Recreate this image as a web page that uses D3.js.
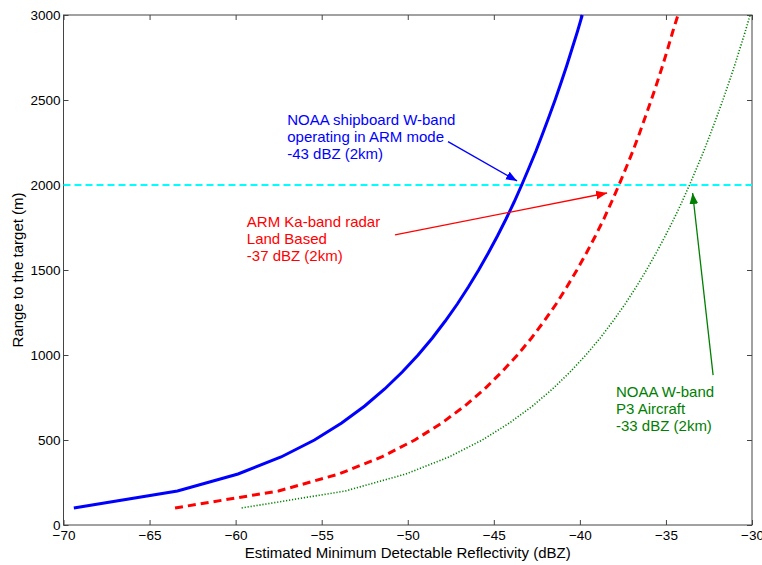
<!DOCTYPE html>
<html>
<head>
<meta charset="utf-8">
<script src="https://cdn.jsdelivr.net/npm/d3@7"></script>
<style>
  body { margin: 0; background: #fff; }
  text { font-family: "Liberation Sans", Arial, sans-serif; }
</style>
</head>
<body>
<svg id="chart" width="762" height="565"></svg>
<script>
// range to target (m)
const ranges = [100, 200, 300, 400, 500, 600, 700, 800, 900, 1000,
  1100, 1200, 1300, 1400, 1500, 1600, 1700, 1800, 1900, 2000,
  2100, 2200, 2300, 2400, 2500, 2600, 2700, 2800, 2900, 3000];

// min detectable reflectivity (dBZ) for each range
const noaaShip = [-69.40, -63.38, -59.86, -57.36, -55.42, -53.84, -52.50, -51.34, -50.32, -49.40,
  -48.57, -47.82, -47.12, -46.48, -45.88, -45.32, -44.79, -44.29, -43.82, -43.38,
  -42.96, -42.55, -42.17, -41.80, -41.44, -41.10, -40.77, -40.46, -40.15, -39.86];
const armKa = [-63.52, -57.51, -54.00, -51.52, -49.59, -48.02, -46.69, -45.54, -44.54, -43.63,
  -42.81, -42.07, -41.38, -40.76, -40.17, -39.62, -39.10, -38.61, -38.16, -37.73,
  -37.32, -36.92, -36.55, -36.20, -35.85, -35.52, -35.20, -34.90, -34.61, -34.30];
const noaaP3 = [-59.65, -53.63, -50.11, -47.61, -45.67, -44.09, -42.75, -41.59, -40.57, -39.65,
  -38.82, -38.07, -37.37, -36.73, -36.13, -35.57, -35.04, -34.54, -34.07, -33.63,
  -33.21, -32.80, -32.42, -32.05, -31.69, -31.35, -31.02, -30.71, -30.40, -30.11];

const refRange = 2000;
const xTicks = [-70, -65, -60, -55, -50, -45, -40, -35, -30];
const yTicks = [0, 500, 1000, 1500, 2000, 2500, 3000];

// annotations: text anchor and arrow [tail, head] in data units
const notes = [
  { lines: ["NOAA shipboard W-band", "operating in ARM mode", "-43 dBZ (2km)"],
    color: "#0000ff", at: [-57.0, 2353], arrow: [[-47.66, 2255], [-43.65, 2024]] },
  { lines: ["ARM Ka-band radar", "Land Based", "-37 dBZ (2km)"],
    color: "#ff0000", at: [-59.35, 1755], arrow: [[-50.74, 1706], [-38.42, 1953]] },
  { lines: ["NOAA W-band", "P3 Aircraft", "-33 dBZ (2km)"],
    color: "#008000", at: [-37.9, 751], arrow: [[-32.26, 882], [-33.45, 1953]] }
];

const margin = { top: 15, right: 10, bottom: 40, left: 63.5 };
const width = 752 - margin.left;
const height = 525 - margin.top;

const svg = d3.select("#chart");
const g = svg.append("g")
  .attr("transform", "translate(" + margin.left + "," + margin.top + ")");

const x = d3.scaleLinear().domain([-70, -30]).range([0, width]);
const y = d3.scaleLinear().domain([0, 3000]).range([height, 0]);

// frame
g.append("rect")
  .attr("width", width).attr("height", height)
  .attr("fill", "none").attr("stroke", "#444").attr("stroke-width", 1);

// axes, ticks pointing inward
const axisStyle = (sel) => {
  sel.select(".domain").remove();
  sel.selectAll("line").attr("stroke", "#444");
  sel.selectAll("text").attr("fill", "#000").style("font-size", "13.5px");
};
g.append("g").attr("transform", "translate(0," + height + ")")
  .call(d3.axisBottom(x).tickValues(xTicks).tickSizeInner(-5).tickPadding(5).tickFormat(d3.format("d")))
  .call(axisStyle);
g.append("g")
  .call(d3.axisTop(x).tickValues(xTicks).tickSizeInner(-5).tickFormat(""))
  .call(axisStyle);
g.append("g")
  .call(d3.axisLeft(y).tickValues(yTicks).tickSizeInner(-5).tickPadding(3).tickFormat(d3.format("d")))
  .call(axisStyle);
g.append("g").attr("transform", "translate(" + width + ",0)")
  .call(d3.axisRight(y).tickValues(yTicks).tickSizeInner(-5).tickFormat(""))
  .call(axisStyle);

// reference line at 2 km
g.append("line")
  .attr("x1", 0).attr("x2", width)
  .attr("y1", y(refRange)).attr("y2", y(refRange))
  .attr("stroke", "#00ffff").attr("stroke-width", 2)
  .attr("stroke-dasharray", "7,4");

const line = d3.line().x((d) => x(d[0])).y((d) => y(d[1]));
const series = [
  { vals: noaaShip, color: "#0000ff", width: 3, dash: null },
  { vals: armKa, color: "#ff0000", width: 3, dash: "8,5" },
  { vals: noaaP3, color: "#008000", width: 1.6, dash: "1.2,1.8" }
];
series.forEach((s) => {
  g.append("path")
    .datum(s.vals.map((v, i) => [v, ranges[i]]))
    .attr("fill", "none")
    .attr("stroke", s.color)
    .attr("stroke-width", s.width)
    .attr("stroke-dasharray", s.dash)
    .attr("d", line);
});

// arrowheads
const defs = svg.append("defs");
notes.forEach((n, i) => {
  defs.append("marker")
    .attr("id", "arrow" + i)
    .attr("viewBox", "0 0 10 10")
    .attr("refX", 10).attr("refY", 5)
    .attr("markerWidth", 11).attr("markerHeight", 11)
    .attr("markerUnits", "userSpaceOnUse")
    .attr("orient", "auto")
    .append("path").attr("d", "M0,1 L10,5 L0,9 Z").attr("fill", n.color);

  g.append("line")
    .attr("x1", x(n.arrow[0][0])).attr("y1", y(n.arrow[0][1]))
    .attr("x2", x(n.arrow[1][0])).attr("y2", y(n.arrow[1][1]))
    .attr("stroke", n.color).attr("stroke-width", 1.3)
    .attr("marker-end", "url(#arrow" + i + ")");

  const t = g.append("text")
    .attr("x", x(n.at[0])).attr("y", y(n.at[1]))
    .attr("fill", n.color).style("font-size", "15px");
  n.lines.forEach((l, j) => {
    t.append("tspan").attr("x", x(n.at[0])).attr("dy", j === 0 ? 0 : 17).text(l);
  });
});

// axis titles
svg.append("text")
  .attr("x", margin.left + width / 2).attr("y", 558)
  .attr("text-anchor", "middle").style("font-size", "15px")
  .text("Estimated Minimum Detectable Reflectivity (dBZ)");
svg.append("text")
  .attr("transform", "translate(23," + (margin.top + height / 2) + ") rotate(-90)")
  .attr("text-anchor", "middle").style("font-size", "15px")
  .text("Range to the target (m)");
</script>
</body>
</html>
